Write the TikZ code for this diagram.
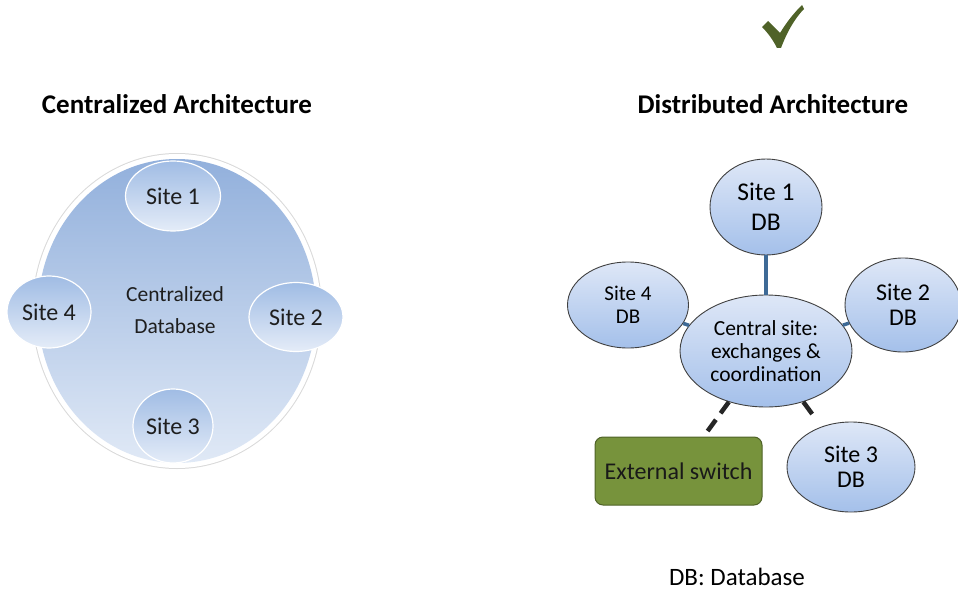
\documentclass[tikz,border=0pt]{standalone}
\usepackage{fontspec}
\setmainfont{Carlito}
\usetikzlibrary{shapes.geometric}
\definecolor{bigtop}{RGB}{146,176,220}
\definecolor{bigbot}{RGB}{224,233,246}
\definecolor{smtop}{RGB}{160,188,228}
\definecolor{smbot}{RGB}{228,236,248}
\definecolor{dtop}{RGB}{222,231,247}
\definecolor{dbot}{RGB}{164,192,234}
\definecolor{olive}{RGB}{119,147,60}
\definecolor{olivedark}{RGB}{79,98,40}
\definecolor{linkblue}{RGB}{62,106,150}
\definecolor{txt}{RGB}{30,30,30}
\tikzset{
  csite/.style={ellipse, inner sep=0pt, top color=smtop, bottom color=smbot, draw=white, line width=1.2pt, text=txt},
  dsite/.style={ellipse, inner sep=0pt, top color=dtop, bottom color=dbot, draw=black!75, line width=0.9pt, align=center, text=black},
  title/.style={font=\fontsize{27}{30}\selectfont\bfseries, text=black},
  bluelink/.style={draw=linkblue, line width=3.5pt},
  blacklink/.style={draw=black!85, line width=4.5pt, dash pattern=on 14pt off 8pt},
}
\begin{document}
\begin{tikzpicture}[x=1pt,y=-1pt]
\useasboundingbox (0,0) rectangle (958,591);
% titles
\node[title] (t1) at (177,104) {Centralized Architecture};
\node[title] (t2) at (773,104) {Distributed Architecture};
% check mark
\fill[olivedark] (762,27) -- (768,21) -- (780,33) .. controls (788,20) and (795,12) .. (802,5) -- (804,9) .. controls (795,18) and (787,32) .. (781,48) -- (777,48) .. controls (773,40) and (768,33) .. cycle;
% centralized
\fill[black!15] (177,311) ellipse [x radius=145, y radius=158];
\fill[white] (177,311) ellipse [x radius=144, y radius=157];
\shade[top color=bigtop, bottom color=bigbot] (177,311) ellipse [x radius=139, y radius=152];
\node[align=center, text=txt, font=\fontsize{21.5}{32}\selectfont] (cdb) at (175,310) {Centralized\\Database};
\node[csite, minimum width=95, minimum height=70, font=\fontsize{24}{28}\selectfont] (c1) at (173,196) {Site 1};
\node[csite, minimum width=94, minimum height=69, font=\fontsize{24}{28}\selectfont] (c2) at (296,317) {Site 2};
\node[csite, minimum width=80, minimum height=74, font=\fontsize{24}{28}\selectfont] (c3) at (173,426) {Site 3};
\node[csite, minimum width=84, minimum height=72, font=\fontsize{24}{28}\selectfont] (c4) at (49,312) {Site 4};
% distributed
\node[dsite, minimum width=112, minimum height=96, font=\fontsize{25.5}{30}\selectfont] (d1) at (766,207) {Site 1\\DB};
\node[dsite, minimum width=121, minimum height=86, font=\fontsize{21}{23}\selectfont] (d4) at (628,305) {Site 4\\DB};
\node[dsite, minimum width=116, minimum height=94, font=\fontsize{24}{25}\selectfont] (d2) at (903,305) {Site 2\\DB};
\node[dsite, minimum width=172, minimum height=112, font=\fontsize{21.5}{23}\selectfont] (dc) at (766,351) {Central site:\\exchanges \&\\coordination};
\node[dsite, minimum width=128, minimum height=90, font=\fontsize{24}{25}\selectfont] (d3) at (851,467) {Site 3\\DB};
\node[rectangle, rounded corners=8pt, fill=olive, draw=olivedark, line width=1pt, minimum width=167, minimum height=68, font=\fontsize{24}{28}\selectfont, text=black!90] (ext) at (678.5,471) {External switch};
% connectors
\draw[bluelink] (d1) -- (dc);
\draw[bluelink] (d4) -- (dc);
\draw[bluelink] (d2) -- (dc);
\draw[blacklink] (dc) -- (ext);
\draw[blacklink, dash pattern=on 15pt off 30pt] (dc) -- (d3);
\node[font=\fontsize{25}{30}\selectfont, text=black] (legend) at (737,577) {DB: Database};
\end{tikzpicture}
\end{document}
